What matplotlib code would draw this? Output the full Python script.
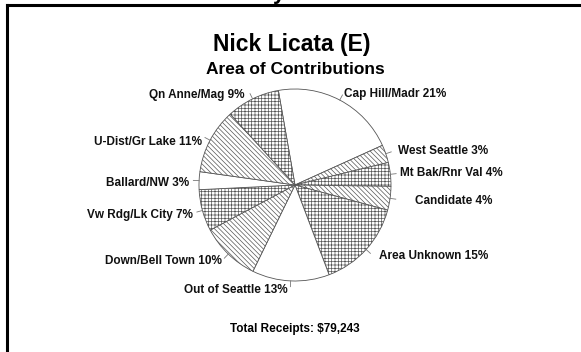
import numpy as np
import matplotlib
matplotlib.use("Agg")
import matplotlib.pyplot as plt
from matplotlib.lines import Line2D

plt.rcParams["font.family"] = ["Liberation Sans", "DejaVu Sans"]
plt.rcParams["hatch.linewidth"] = 0.5

# area of contributions, percent of total receipts (clockwise from top)
areas = ["Cap Hill/Madr", "West Seattle", "Mt Bak/Rnr Val", "Candidate",
         "Area Unknown", "Out of Seattle", "Down/Bell Town", "Vw Rdg/Lk City",
         "Ballard/NW", "U-Dist/Gr Lake", "Qn Anne/Mag"]
shares = [21, 3, 4, 4, 15, 13, 10, 7, 3, 11, 9]
total_receipts = 79243

diag = "\\" * 7
cross = "+" * 5
hatches = ["", diag, cross, diag, cross, "", diag, cross, "", diag, cross]

W, H = 581, 352
R = 96.0          # pie radius in pixels
cx, cy = 295, 185  # pie centre in pixels (from top-left)

fig = plt.figure(figsize=(W / 100, H / 100), dpi=100)
ax = fig.add_axes([0, 0, 1, 1])

labels = ["%s %d%%" % (a, s) for a, s in zip(areas, shares)]
wedges, texts = ax.pie(shares, labels=labels, startangle=100, counterclock=False,
                       labeldistance=1.1, colors=["white"] * len(shares),
                       wedgeprops=dict(edgecolor="#555555", linewidth=0.6),
                       textprops=dict(fontsize=8.5, fontweight="bold", color="#111111"))
for w, h in zip(wedges, hatches):
    w.set_hatch(h)

# small nudges for crowded labels (data units, radius = 1)
nudge = {"Candidate": (0.16, -0.01), "Ballard/NW": (0.0, -0.03),
         "Area Unknown": (0.06, 0.0), "Qn Anne/Mag": (-0.045, -0.05),
         "Cap Hill/Madr": (0.0, -0.025), "U-Dist/Gr Lake": (0.0, -0.06),
         "Out of Seattle": (-0.03, 0.01), "Vw Rdg/Lk City": (0.0, -0.02),
         "West Seattle": (0.03, 0.0)}
for a, t in zip(areas, texts):
    if a in nudge:
        x, y = t.get_position()
        t.set_position((x + nudge[a][0], y + nudge[a][1]))

# leader lines
for w in wedges:
    ang = np.deg2rad((w.theta1 + w.theta2) / 2)
    ax.plot([np.cos(ang), 1.06 * np.cos(ang)], [np.sin(ang), 1.06 * np.sin(ang)],
            color="#777777", linewidth=0.6)

ax.set_xlim(-cx / R, (W - cx) / R)
ax.set_ylim(-(H - cy) / R, cy / R)
ax.set_aspect("auto")
ax.axis("off")

fig.text(292 / W, 1 - 44 / H, "Nick Licata (E)", ha="center", va="center",
         fontsize=16.5, fontweight="bold")
fig.text(295 / W, 1 - 70 / H, "Area of Contributions", ha="center", va="center",
         fontsize=12.5, fontweight="bold")
fig.text(295 / W, 1 - 329 / H, "Total Receipts: ${:,}".format(total_receipts),
         ha="center", va="center", fontsize=8.5, fontweight="bold")

# cut-off heading above the frame
fig.text(279 / W, 1 + 1.5 / H, "y", ha="center", va="baseline",
         fontsize=16, fontweight="bold")

# frame (left and top only visible)
fig.add_artist(Line2D([6.5 / W, 6.5 / W], [0, 1 - 5 / H], transform=fig.transFigure,
                      color="black", linewidth=2.2, solid_capstyle="projecting"))
fig.add_artist(Line2D([6.5 / W, 1], [1 - 5 / H, 1 - 5 / H], transform=fig.transFigure,
                      color="black", linewidth=2.2, solid_capstyle="projecting"))

fig.savefig("out.png", dpi=100)
